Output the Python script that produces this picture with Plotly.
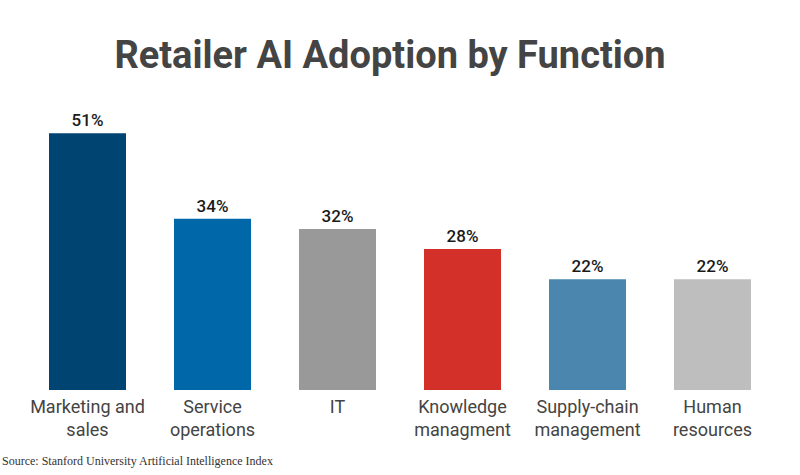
import plotly.graph_objects as go

categories = ["Marketing and<br>sales", "Service<br>operations", "IT", "Knowledge<br>managment", "Supply-chain<br>management", "Human<br>resources"]
values = [51, 34, 32, 28, 22, 22]
colors = ["#004571", "#0068A8", "#999999", "#D3302A", "#4A86AD", "#BEBEBE"]

fig = go.Figure(go.Bar(
    x=categories, y=values,
    marker=dict(color=colors, line=dict(width=0)),
    text=[f"{v}%" for v in values], textposition="outside",
    textfont=dict(family="Roboto", size=17, color="#1a1a1a", weight=500),
    cliponaxis=False, width=0.616,
))
fig.update_layout(
    width=800, height=475,
    margin=dict(l=25, r=25, t=88, b=85),
    paper_bgcolor="white", plot_bgcolor="white",
    title=dict(text="<b>Retailer AI Adoption by Function</b>", x=0.4875, xanchor="center", y=0.885, yanchor="middle",
               font=dict(family="Roboto", size=38, color="#444444")),
    xaxis=dict(showgrid=False, showline=False, ticks="", ticklabelstandoff=4,
               tickfont=dict(family="Roboto", size=18, color="#444444")),
    yaxis=dict(range=[0, 60], visible=False),
    showlegend=False,
)
fig.add_annotation(text="Source: Stanford University Artificial Intelligence Index", xref="paper", yref="paper",
                   x=-25/750, y=-(461-390)/302, xanchor="left", yanchor="middle", showarrow=False,
                   font=dict(family="Liberation Serif", size=12, color="#333333"))
fig.write_html("out.html")
